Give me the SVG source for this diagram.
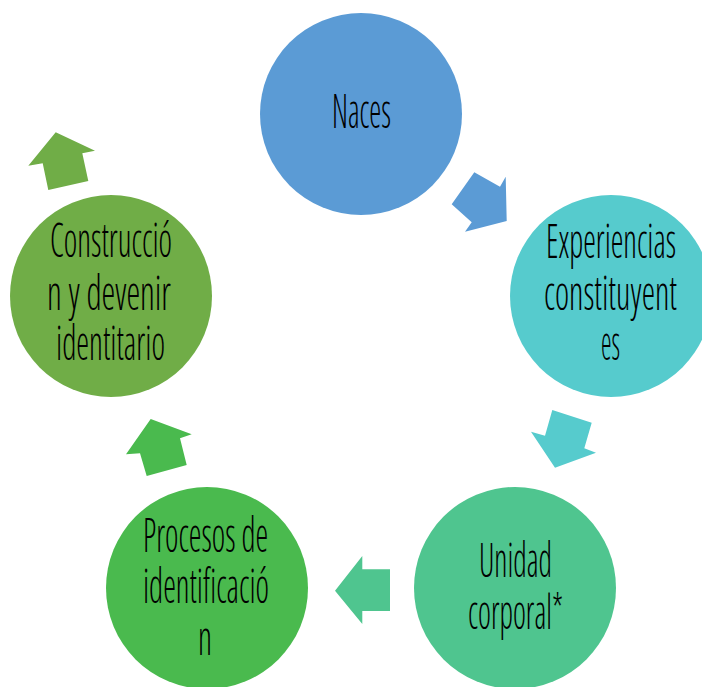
<svg xmlns="http://www.w3.org/2000/svg" width="702" height="687" viewBox="0 0 702 687">
<style>
.t{font-family:"Open Sans","Liberation Sans Narrow","Liberation Sans",sans-serif;font-weight:300;font-stretch:condensed;font-size:48px;fill:#000;}
.c1{fill:#5B9BD5}.c2{fill:#56CBCD}.c3{fill:#4FC58F}.c4{fill:#4ABA4E}.c5{fill:#70AD47}
</style>
<rect width="702" height="687" fill="#fff"/>
<g id="connectors">
<polygon class="c1" points="474.3,172.3 451.7,204.3 471.7,222.3 465,231.7 506.7,221 505.7,176.7 500,186.7"/>
<polygon class="c2" points="552.3,410 591.7,422.7 584.3,448.3 596,452.7 555,467.7 531,431.7 545,435.7"/>
<polygon class="c3" points="335,590.7 362.3,556 362.3,569.3 390,569.3 390,611 362.3,611 362.3,624"/>
<polygon class="c4" points="150.7,419 191.7,434.3 180,438.3 186.7,465 146.7,476 140,453.3 126,454.3"/>
<polygon class="c5" points="55.7,132.3 95,150.7 82.3,153.3 88.3,181 48.3,190 42.7,163.3 28.3,165.7"/>
</g>
<g id="naces">
<circle class="c1" cx="361" cy="114" r="101"/>
<text class="t" x="332" y="128" textLength="59" lengthAdjust="spacingAndGlyphs">Naces</text>
</g>
<g id="experiencias">
<circle class="c2" cx="611" cy="296" r="101"/>
<text class="t" x="546" y="258" textLength="130" lengthAdjust="spacingAndGlyphs">Experiencias</text>
<text class="t" x="544" y="310" textLength="133" lengthAdjust="spacingAndGlyphs">constituyent</text>
<text class="t" x="601" y="360" textLength="19" lengthAdjust="spacingAndGlyphs">es</text>
</g>
<g id="unidad">
<circle class="c3" cx="515" cy="588" r="101"/>
<text class="t" x="479" y="577" textLength="73" lengthAdjust="spacingAndGlyphs">Unidad</text>
<text class="t" x="468" y="629" textLength="95" lengthAdjust="spacingAndGlyphs">corporal*</text>
</g>
<g id="procesos">
<circle class="c4" cx="207" cy="588" r="101"/>
<text class="t" x="143" y="552" textLength="125" lengthAdjust="spacingAndGlyphs">Procesos de</text>
<text class="t" x="143" y="603" textLength="126" lengthAdjust="spacingAndGlyphs">identificació</text>
<text class="t" x="198" y="655" textLength="14" lengthAdjust="spacingAndGlyphs">n</text>
</g>
<g id="construccion">
<circle class="c5" cx="111" cy="296" r="101"/>
<text class="t" x="50" y="257" textLength="122" lengthAdjust="spacingAndGlyphs">Construcció</text>
<text class="t" x="47" y="310" textLength="124" lengthAdjust="spacingAndGlyphs">n y devenir</text>
<text class="t" x="56" y="360" textLength="109" lengthAdjust="spacingAndGlyphs">identitario</text>
</g>
</svg>
